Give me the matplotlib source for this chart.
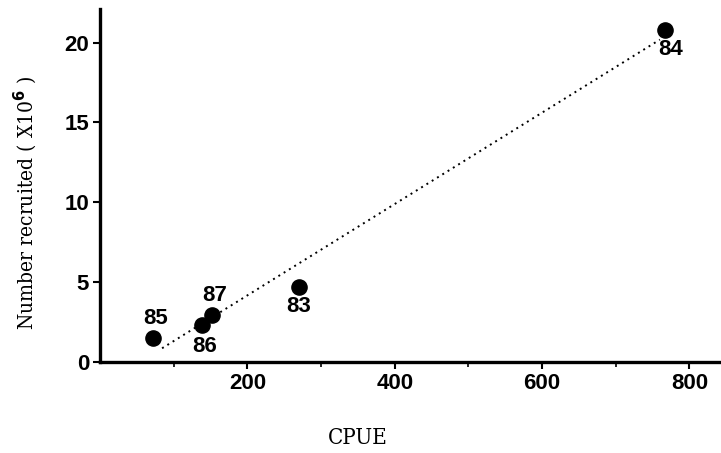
import numpy as np
import matplotlib
matplotlib.use("Agg")
import matplotlib.pyplot as plt
from matplotlib import font_manager as fm

# Data
years = ["85", "86", "87", "83", "84"]
cpue = [71, 138, 152, 270, 767]
recruited = [1.5, 2.3, 2.95, 4.7, 20.8]
fit_range = [84, 760]

x_major = [200, 400, 600, 800]
x_minor = [100, 300, 500, 700]
y_major = [0, 5, 10, 15, 20]

# label offsets in points (dx, dy)
label_offsets = {"85": (2, 14), "86": (2, -15), "87": (2, 14), "83": (0, -14), "84": (4, -14)}

narrow = fm.FontProperties(family="DejaVu Serif", stretch="condensed")

fig = plt.figure(figsize=(7.21, 4.53), dpi=100)
ax = fig.add_axes([0.139, 0.201, 0.861, 0.779])

slope, intercept = np.polyfit(cpue, recruited, 1)
fx = np.array(fit_range)
ax.plot(fx, slope * fx + intercept, color="black", lw=1.4, linestyle=(0, (1, 2.2)))

ax.scatter(cpue, recruited, s=120, color="black", zorder=3)

for yr, x, y in zip(years, cpue, recruited):
    dx, dy = label_offsets[yr]
    ax.annotate(yr, (x, y), xytext=(dx, dy), textcoords="offset points",
                ha="center", va="center", fontsize=16, fontweight="bold",
                family="Liberation Sans")

ax.set_xlim(0, 843)
ax.set_ylim(0, 22.1)
ax.set_xticks(x_major)
ax.set_xticks(x_minor, minor=True)
ax.set_yticks(y_major)

for s in ["top", "right"]:
    ax.spines[s].set_visible(False)
for s in ["left", "bottom"]:
    ax.spines[s].set_linewidth(2.4)

ax.tick_params(axis="both", which="major", direction="out", length=5, width=1.5,
               labelsize=16, pad=3)
ax.tick_params(axis="x", which="minor", direction="out", length=3.5, width=1.2)
for lab in ax.get_xticklabels() + ax.get_yticklabels():
    lab.set_fontweight("bold")
    lab.set_family("Liberation Sans")

xl = narrow.copy()
xl.set_size(16)
ax.set_xlabel("CPUE", fontproperties=xl)
ax.xaxis.set_label_coords((358 - 100) / 621, -(438 - 362) / 353)
ax.xaxis.label.set_va("center")

yl = narrow.copy()
yl.set_size(15)
ax.set_ylabel("Number recruited ( X10$^{\\mathbf{6}}$ )", fontproperties=yl)
ax.yaxis.set_label_coords(-(100 - 25) / 621, (362 - 203) / 353)
ax.yaxis.label.set_va("center")

fig.savefig("out.png", dpi=100)
